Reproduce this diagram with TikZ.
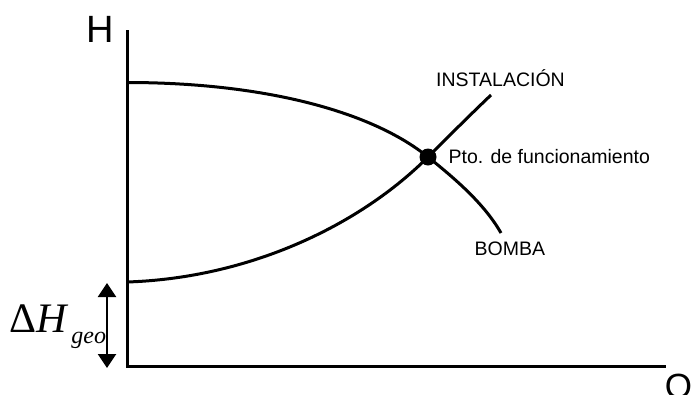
\documentclass[tikz,border=0pt]{standalone}
\usepackage{fontspec}
\setmainfont{Liberation Sans}
\newfontfamily\timesfont{Liberation Serif}
\usetikzlibrary{arrows.meta}

\begin{document}
\begin{tikzpicture}[x=1pt,y=-1pt]
\tikzstyle{every node}+=[inner sep=0pt]
\tikzstyle{axis}=[black, line width=3pt]
\tikzstyle{curve}=[black, line width=3pt]
\tikzstyle{lbl}=[font=\fontsize{19.5}{22}\selectfont, anchor=base west]
\useasboundingbox (0,0) rectangle (694,394);
% axes
\coordinate (Htop) at (127,30);
\coordinate (O) at (127,366);
\coordinate (Qend) at (666,366);
\draw [axis] (Htop) -- (O) -- (Qend);
\node [font=\fontsize{38}{40}\selectfont, anchor=base] (Hlbl) at (100,42) {H};
\node [font=\fontsize{35}{40}\selectfont, anchor=base] (Qlbl) at (678.5,398) {Q};
% working point
\node [circle, fill=black, minimum size=17pt] (op) at (428,157) {};
% pump curve
\coordinate (pump0) at (127,82.5);
\coordinate (pump1) at (501,233);
\draw [curve] (pump0) .. controls (260,82.5) and (370,110) .. (op.center)
  .. controls (458,181) and (485,205) .. (pump1);
% system curve
\coordinate (inst0) at (127,282);
\coordinate (inst1) at (491,95);
\draw [curve] (inst0) .. controls (250,278) and (360,225) .. (op.center)
  .. controls (450,135) and (470,115) .. (inst1);
\node [lbl] (inst) at (436,86) {INSTALACIÓN};
\node [lbl] (ptolbl) at (448.5,163) {Pto. de funcionamiento};
\node [lbl] (bomba) at (474.5,255) {BOMBA};
% static head
\draw [black, line width=2.5pt, {Triangle[width=18pt,length=14pt]}-{Triangle[width=18pt,length=14pt]}]
  ([xshift=-20pt,yshift=-1pt]inst0) -- ([xshift=-20pt,yshift=-2pt]O);
\node [anchor=base west, font=\timesfont\fontsize{42}{44}\selectfont] (dH) at (9,332)
  {Δ\textit{H}\hspace{3pt}\raisebox{-11pt}{\fontsize{24}{26}\selectfont\textit{geo}}};
\end{tikzpicture}
\end{document}
